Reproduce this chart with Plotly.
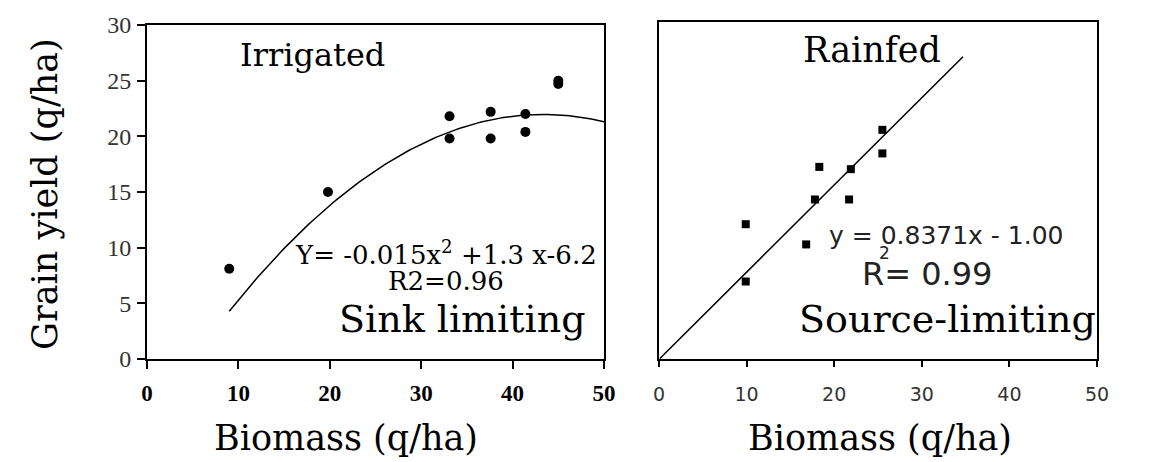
import numpy as np
import plotly.graph_objects as go

# ---- data ----
irr_x = [9.0, 19.8, 33.1, 33.1, 37.6, 37.6, 41.4, 41.4, 45.0, 45.0]
irr_y = [8.1, 15.0, 21.8, 19.8, 22.2, 19.8, 22.0, 20.4, 25.0, 24.7]

rain_x = [9.9, 9.9, 16.8, 17.8, 18.3, 21.9, 21.7, 25.5, 25.5]
rain_y = [12.0, 6.9, 10.2, 14.2, 17.1, 16.9, 14.2, 20.4, 18.3]

# fitted quadratic for irrigated (coefficients from the chart's equation)
quad_a, quad_b, quad_c = -0.015, 1.3, -6.2
quad_x_start, quad_x_end = 9, 50

# fitted line for rainfed (endpoints)
rain_line_x = [0.1, 34.7]
rain_line_y = [0.05, 26.9]

x_ticks = [0, 10, 20, 30, 40, 50]
y_ticks = [0, 5, 10, 15, 20, 25, 30]

quad_x = np.linspace(quad_x_start, quad_x_end, 120)
quad_y = quad_a * quad_x ** 2 + quad_b * quad_x + quad_c

SERIF = "DejaVu Serif"
SANS = "DejaVu Sans"

fig = go.Figure()
fig.add_trace(go.Scatter(x=quad_x, y=quad_y, mode="lines",
                         line=dict(color="black", width=1.5),
                         xaxis="x", yaxis="y", showlegend=False))
fig.add_trace(go.Scatter(x=irr_x, y=irr_y, mode="markers",
                         marker=dict(symbol="circle", size=10, color="black"),
                         xaxis="x", yaxis="y", showlegend=False))
fig.add_trace(go.Scatter(x=rain_line_x, y=rain_line_y, mode="lines",
                         line=dict(color="black", width=1.5),
                         xaxis="x2", yaxis="y2", showlegend=False))
fig.add_trace(go.Scatter(x=rain_x, y=rain_y, mode="markers",
                         marker=dict(symbol="square", size=8, color="black"),
                         xaxis="x2", yaxis="y2", showlegend=False))

W, H = 1150, 462
axis_common = dict(showgrid=False, zeroline=False, showline=True, automargin=False,
                   linecolor="black", linewidth=2, mirror=True)

fig.update_layout(
    width=W, height=H,
    margin=dict(l=0, r=0, t=0, b=0, autoexpand=False),
    paper_bgcolor="white", plot_bgcolor="white",
    showlegend=False,
    xaxis=dict(domain=[147 / W, 604 / W], range=[0, 50], tickvals=x_ticks,
               ticks="outside", ticklen=8, tickwidth=2, tickcolor="black",
               tickfont=dict(family="Liberation Serif", size=23, color="black", weight="bold"),
               ticklabelstandoff=4, anchor="y", **axis_common),
    yaxis=dict(domain=[1 - 359 / H, 1 - 25 / H], range=[0, 30], tickvals=y_ticks,
               ticks="outside", ticklen=8, tickwidth=2, tickcolor="black",
               tickfont=dict(family="Liberation Serif", size=24, color="#333333"),
               ticklabelstandoff=1, anchor="x", **axis_common),
    xaxis2=dict(domain=[659 / W, 1097 / W], range=[0, 50], tickvals=x_ticks,
                ticks="outside", ticklen=6, tickwidth=2, tickcolor="black",
                tickfont=dict(family=SANS, size=19, color="#333333"),
                ticklabelstandoff=11, anchor="y2", **axis_common),
    yaxis2=dict(domain=[1 - 359 / H, 1 - 22 / H], range=[0, 30],
                showticklabels=False, ticks="", anchor="x2", **axis_common),
)

ann = []
def add(text, x, y, xref, yref, size, family=SERIF, color="black", angle=0):
    ann.append(dict(text=text, x=x, y=y, xref=xref, yref=yref, showarrow=False,
                    font=dict(family=family, size=size, color=color),
                    textangle=angle, xanchor="center", yanchor="middle"))

# axis titles (paper coords)
add("Grain yield (q/ha)", 45 / W, 1 - 194 / H, "paper", "paper", 35, angle=-90)
add("Biomass (q/ha)", 346 / W, 1 - 438 / H, "paper", "paper", 35)
add("Biomass (q/ha)", 880 / W, 1 - 438 / H, "paper", "paper", 35)

# left panel texts
add("Irrigated", 18.1, 27.3, "x", "y", 32)
add("Y= -0.015x<sup>2</sup> +1.3 x-6.2", 32.7, 9.5, "x", "y", 26)
add("R2=0.96", 32.7, 7.0, "x", "y", 26)
add("Sink limiting", 34.5, 3.6, "x", "y", 38)

# right panel texts
add("Rainfed", 24.3, 27.5, "x2", "y2", 35)
add("y = 0.8371x - 1.00", 32.8, 11.0, "x2", "y2", 25, family=SANS, color="#222222")
add("2", 25.7, 9.4, "x2", "y2", 17, family=SANS, color="#222222")
add("R= 0.99", 30.6, 7.6, "x2", "y2", 32, family=SANS, color="#222222")
add("Source-limiting", 32.9, 3.6, "x2", "y2", 38)

fig.update_layout(annotations=ann)

fig.write_html("out.html", config={"displayModeBar": False},
               post_script="document.body.style.margin='0';document.body.style.overflow='hidden';")
